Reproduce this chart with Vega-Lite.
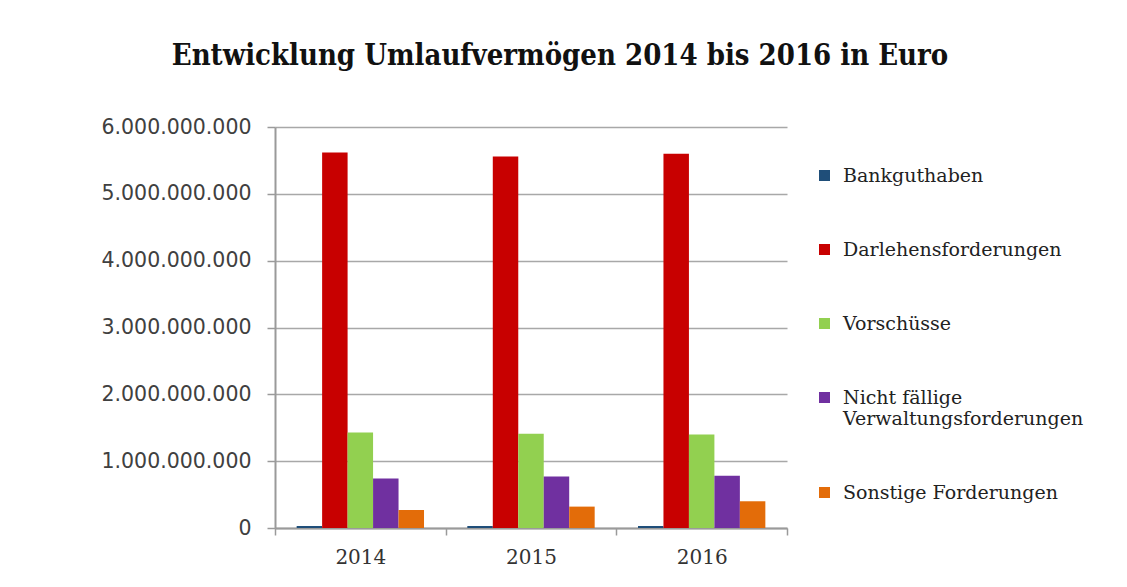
{
  "$schema": "https://vega.github.io/schema/vega-lite/v6.json",
  "autosize": {"type": "none"},
  "width": 512,
  "height": 401,
  "padding": {"left": 275, "top": 127, "right": 340, "bottom": 59},
  "background": "white",
  "title": {
    "text": "Entwicklung Umlaufvermögen 2014 bis 2016 in Euro",
    "font": "DejaVu Serif Condensed",
    "fontWeight": "bold",
    "fontSize": 29,
    "color": "#111111",
    "anchor": "middle",
    "frame": "group",
    "dx": 29,
    "offset": 46
  },
  "data": {
    "values": [
      {"Jahr": "2014", "Kategorie": "Bankguthaben", "Wert": 30000000},
      {"Jahr": "2014", "Kategorie": "Darlehensforderungen", "Wert": 5620000000},
      {"Jahr": "2014", "Kategorie": "Vorschüsse", "Wert": 1430000000},
      {"Jahr": "2014", "Kategorie": "Nicht fällige Verwaltungsforderungen", "Wert": 740000000},
      {"Jahr": "2014", "Kategorie": "Sonstige Forderungen", "Wert": 270000000},
      {"Jahr": "2015", "Kategorie": "Bankguthaben", "Wert": 30000000},
      {"Jahr": "2015", "Kategorie": "Darlehensforderungen", "Wert": 5560000000},
      {"Jahr": "2015", "Kategorie": "Vorschüsse", "Wert": 1410000000},
      {"Jahr": "2015", "Kategorie": "Nicht fällige Verwaltungsforderungen", "Wert": 770000000},
      {"Jahr": "2015", "Kategorie": "Sonstige Forderungen", "Wert": 320000000},
      {"Jahr": "2016", "Kategorie": "Bankguthaben", "Wert": 30000000},
      {"Jahr": "2016", "Kategorie": "Darlehensforderungen", "Wert": 5600000000},
      {"Jahr": "2016", "Kategorie": "Vorschüsse", "Wert": 1400000000},
      {"Jahr": "2016", "Kategorie": "Nicht fällige Verwaltungsforderungen", "Wert": 780000000},
      {"Jahr": "2016", "Kategorie": "Sonstige Forderungen", "Wert": 400000000}
    ]
  },
  "mark": {"type": "bar"},
  "encoding": {
    "x": {
      "field": "Jahr",
      "type": "nominal",
      "scale": {"paddingInner": 0, "paddingOuter": 0},
      "axis": {
        "title": null,
        "labelAngle": 0,
        "labelFont": "DejaVu Serif",
        "labelFontSize": 20,
        "labelColor": "#333333",
        "labelPadding": 12,
        "tickBand": "extent",
        "tickSize": 7,
        "tickColor": "#9a9a9a",
        "tickWidth": 1.5,
        "domainColor": "#9a9a9a",
        "domainWidth": 2,
        "grid": false
      }
    },
    "xOffset": {
      "field": "Kategorie",
      "type": "nominal",
      "sort": ["Bankguthaben", "Darlehensforderungen", "Vorschüsse", "Nicht fällige Verwaltungsforderungen", "Sonstige Forderungen"],
      "scale": {"paddingInner": 0, "paddingOuter": 0.85}
    },
    "y": {
      "field": "Wert",
      "type": "quantitative",
      "scale": {"domain": [0, 6000000000], "nice": false},
      "axis": {
        "title": null,
        "values": [0, 1000000000, 2000000000, 3000000000, 4000000000, 5000000000, 6000000000],
        "labelExpr": "replace(format(datum.value, ',.0f'), regexp(',', 'g'), '.')",
        "labelFont": "DejaVu Sans",
        "labelFontSize": 20.5,
        "labelColor": "#404040",
        "labelPadding": 16,
        "tickSize": 8,
        "tickColor": "#9a9a9a",
        "tickWidth": 1.5,
        "domainColor": "#9a9a9a",
        "domainWidth": 2,
        "grid": true,
        "gridColor": "#a8a8a8",
        "gridWidth": 1.5
      }
    },
    "color": {
      "field": "Kategorie",
      "type": "nominal",
      "scale": {
        "domain": ["Bankguthaben", "Darlehensforderungen", "Vorschüsse", "Nicht fällige Verwaltungsforderungen", "Sonstige Forderungen"],
        "range": ["#1f4e79", "#c80000", "#92d050", "#7030a0", "#e36c09"]
      },
      "legend": {
        "title": null,
        "orient": "none",
        "legendX": 540,
        "legendY": 39,
        "symbolType": "square",
        "symbolSize": 121,
        "symbolStrokeWidth": 0,
        "labelFont": "DejaVu Serif",
        "labelFontSize": 19,
        "labelColor": "#222222",
        "labelOffset": 9,
        "labelLimit": 400,
        "rowPadding": 54,
        "labelExpr": "datum.label == 'Nicht fällige Verwaltungsforderungen' ? ['Nicht fällige', 'Verwaltungsforderungen'] : datum.label"
      }
    }
  },
  "config": {
    "view": {"stroke": null}
  }
}
